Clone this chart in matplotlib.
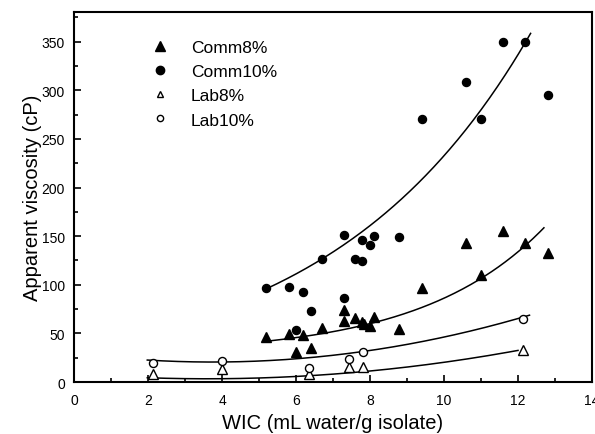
import numpy as np
import matplotlib
matplotlib.use("Agg")
import matplotlib.pyplot as plt
from matplotlib.lines import Line2D
from matplotlib.ticker import MultipleLocator

plt.rcParams['font.family'] = ['Liberation Sans', 'DejaVu Sans']

# Data
comm8_x = [5.19, 5.80, 6.19, 5.99, 6.40, 6.70, 7.29, 7.29, 7.60, 7.79, 7.85, 7.99, 8.10, 8.79,
           9.41, 10.59, 11.01, 11.59, 12.18, 12.80]
comm8_y = [45.9, 49.0, 48.6, 30.8, 34.9, 55.1, 74.3, 62.7, 65.8, 62.0, 59.6, 57.2, 66.4, 54.1,
           96.6, 142.8, 110.3, 155.5, 142.5, 132.5]

comm10_x = [5.19, 5.80, 6.19, 6.40, 5.99, 6.70, 7.29, 7.29, 7.60, 7.79, 7.79, 7.99, 8.10, 8.79,
            9.41, 10.59, 10.99, 11.59, 12.18, 12.80]
comm10_y = [96.2, 97.9, 92.8, 73.0, 54.0, 126.0, 151.0, 86.0, 127.0, 146.0, 124.0, 141.0, 150.0, 149.0,
            270.4, 308.6, 270.4, 350.0, 350.0, 295.3]

lab8_x = [2.13, 3.99, 6.35, 7.44, 7.81, 12.13]
lab8_y = [7.9, 13.0, 8.6, 15.0, 15.0, 33.2]

lab10_x = [2.13, 3.99, 6.35, 7.44, 7.81, 12.13]
lab10_y = [19.5, 21.6, 14.4, 23.6, 30.5, 64.7]

labels = ['Comm8%', 'Comm10%', 'Lab8%', 'Lab10%']

# Trend-line models
# Comm8%: y = y0 + A*exp(k*x)
comm8_fit = dict(y0=28.2, A=2.888, k=0.30, xmin=5.3, xmax=12.7)
# Comm10%: y = A*exp(k*x)
comm10_fit = dict(y0=0.0, A=36.7, k=0.1847, xmin=5.2, xmax=12.34)
# Lab curves: quadratic c0 + c1*x + c2*x^2
lab8_fit = dict(c=[8.66, -2.968, 0.4129], xmin=1.98, xmax=12.0)
lab10_fit = dict(c=[29.77, -4.924, 0.657], xmin=1.98, xmax=12.31)

fig = plt.figure(figsize=(5.95, 4.35), dpi=100)
ax = fig.add_axes([0.1244, 0.1195, 0.995 - 0.1244, 0.969 - 0.1195])


def exp_curve(p):
    xs = np.linspace(p['xmin'], p['xmax'], 200)
    return xs, p['y0'] + p['A'] * np.exp(p['k'] * xs)


def quad_curve(p):
    xs = np.linspace(p['xmin'], p['xmax'], 200)
    c = p['c']
    return xs, c[0] + c[1] * xs + c[2] * xs ** 2


for xs, ys in [exp_curve(comm8_fit), exp_curve(comm10_fit),
               quad_curve(lab8_fit), quad_curve(lab10_fit)]:
    ax.plot(xs, ys, color='black', lw=1.1, zorder=2)

ax.plot(comm8_x, comm8_y, ls='none', marker='^', ms=6.5, mfc='black', mec='black', zorder=3)
ax.plot(comm10_x, comm10_y, ls='none', marker='o', ms=5.8, mfc='black', mec='black', zorder=3)
ax.plot(lab8_x, lab8_y, ls='none', marker='^', ms=6.5, mfc='white', mec='black', mew=1.0, zorder=3)
ax.plot(lab10_x, lab10_y, ls='none', marker='o', ms=5.8, mfc='white', mec='black', mew=1.0, zorder=3)

handles = [
    Line2D([], [], ls='none', marker='^', ms=6.5, mfc='black', mec='black'),
    Line2D([], [], ls='none', marker='o', ms=6.0, mfc='black', mec='black'),
    Line2D([], [], ls='none', marker='^', ms=5, mfc='white', mec='black', mew=1.0),
    Line2D([], [], ls='none', marker='o', ms=4.5, mfc='white', mec='black', mew=1.0),
]
leg = ax.legend(handles, labels, loc='upper left', bbox_to_anchor=(0.149, 0.926), frameon=False,
                fontsize=12.5, handletextpad=1.28, labelspacing=0.52, handlelength=1.0, borderpad=0,
                borderaxespad=0)

ax.set_xlim(0, 14)
ax.set_ylim(0, 380)
ax.xaxis.set_major_locator(MultipleLocator(2))
ax.xaxis.set_minor_locator(MultipleLocator(1))
ax.yaxis.set_major_locator(MultipleLocator(50))
ax.yaxis.set_minor_locator(MultipleLocator(25))
ax.tick_params(which='both', direction='in', top=False, right=False, labelsize=10, width=1.2)
ax.tick_params(which='major', length=5)
ax.tick_params(which='minor', length=3)
ax.tick_params(axis='x', which='major', pad=8)
ax.tick_params(axis='y', which='major', pad=6.5)
for s in ax.spines.values():
    s.set_linewidth(1.5)

ax.set_xlabel('WIC (mL water/g isolate)', fontsize=14.5, labelpad=4)
ax.set_ylabel('Apparent viscosity (cP)', fontsize=14.5, labelpad=0)

fig.savefig('out.png', dpi=100)
